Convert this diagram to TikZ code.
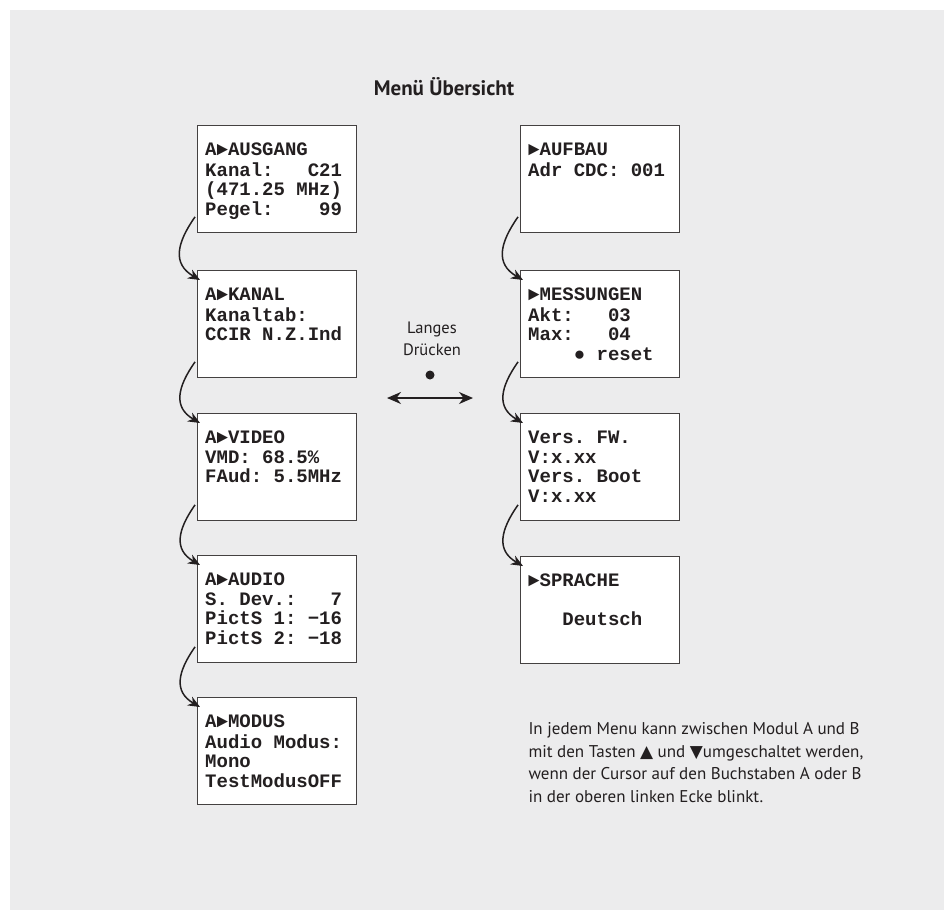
\documentclass[tikz,border=0pt]{standalone}
\usepackage{fontspec}
\setmainfont{PT Sans}
\newfontfamily\lcdfont{Liberation Mono}
\newfontfamily\symfont{DejaVu Sans}
\usetikzlibrary{arrows.meta,positioning}

\definecolor{bggray}{HTML}{ECECED}
\definecolor{ink}{HTML}{231F20}

\tikzset{
  screen/.style={draw=ink!85, fill=white, line width=0.9pt, minimum width=159pt,
    minimum height=107pt, inner sep=0pt, anchor=north west},
  lcd/.style={anchor=north west, inner sep=0pt, align=left, text=ink,
    font=\lcdfont\bfseries\fontsize{19}{19.5}\selectfont},
  flow/.style={ink, line width=1.5pt, -{Stealth[length=12pt,width=10pt]}},
  toggle/.style={ink, line width=2pt, {Stealth[length=14pt,width=12pt]}-{Stealth[length=14pt,width=12pt]}},
}

\begin{document}
\begin{tikzpicture}[x=1pt,y=1pt]

\useasboundingbox (0,0) rectangle (944,-910);
\fill[white] (0,0) rectangle (944,-910);
\fill[bggray] (10,-10) rectangle (944,-910);

\node[font=\bfseries\fontsize{21}{25}\selectfont, text=ink] (title) at (444,-87) {Menü Übersicht};

% linke Spalte
\node[screen] (ausgang) at (197,-125) {};
\node[screen] (kanal)   at (197,-270) {};
\node[screen] (video)   at (197,-413) {};
\node[screen] (audio)   at (197,-555) {};
\node[screen] (modus)   at (197,-697) {};

\node[lcd] (ausgang-t) at ([shift={(8,-17)}]ausgang.north west) {\strut A►AUSGANG\\Kanal:~~~C21\\(471.25~MHz)\\Pegel:~~~~99};
\node[lcd] (kanal-t)   at ([shift={(8,-17)}]kanal.north west) {\strut A►KANAL\\Kanaltab:\\CCIR~N.Z.Ind};
\node[lcd] (video-t)   at ([shift={(8,-17)}]video.north west) {\strut A►VIDEO\\VMD:~68.5\%\\FAud:~5.5MHz};
\node[lcd] (audio-t)   at ([shift={(8,-17)}]audio.north west) {\strut A►AUDIO\\S.~Dev.:~~~7\\PictS~1:~−16\\PictS~2:~−18};
\node[lcd] (modus-t)   at ([shift={(8,-17)}]modus.north west) {\strut A►MODUS\\Audio~Modus:\\Mono\\TestModusOFF};

% rechte Spalte
\node[screen] (aufbau)  at (520,-125) {};
\node[screen] (messung) at (520,-270) {};
\node[screen] (version) at (520,-413) {};
\node[screen] (sprache) at (520,-556) {};

\node[lcd] (aufbau-t)  at ([shift={(8,-17)}]aufbau.north west) {\strut►AUFBAU\\Adr~CDC:~001};
\node[lcd] (messung-t) at ([shift={(8,-17)}]messung.north west) {\strut►MESSUNGEN\\Akt:~~~03\\Max:~~~04\\~~~~●~reset};
\node[lcd] (version-t) at ([shift={(8,-17)}]version.north west) {\strut Vers.~FW.\\V:x.xx\\Vers.~Boot\\V:x.xx};
\node[lcd] (sprache-t) at ([shift={(8,-17)}]sprache.north west) {\strut►SPRACHE\\~\\~~~Deutsch};

% Pfeile
\foreach \a/\b in {ausgang/kanal, kanal/video, video/audio, audio/modus, aufbau/messung, messung/version, version/sprache}
  \draw[flow] ([shift={(-2,16)}]\a.south west) to[out=235,in=150,looseness=1.3] ([shift={(3,-10)}]\b.north west);

\coordinate (pl) at (387,-398);
\coordinate (pr) at (473,-398);
\draw[toggle] (pl) -- (pr);
\node[circle, fill=ink, inner sep=0pt, minimum size=9pt] (dot) at (430,-375) {};
\node[anchor=base, align=center, text=ink, font=\fontsize{16.5}{22}\selectfont] (press) at (432,-355) {Langes\\Drücken};

\node[anchor=base west, align=left, text=ink, font=\fontsize{17}{22.5}\selectfont] (note) at (525,-802)
  {In jedem Menu kann zwischen Modul A und B\\
   mit den Tasten {\symfont▲} und {\symfont▼}umgeschaltet werden,\\
   wenn der Cursor auf den Buchstaben A oder B\\
   in der oberen linken Ecke blinkt.};

\end{tikzpicture}
\end{document}
